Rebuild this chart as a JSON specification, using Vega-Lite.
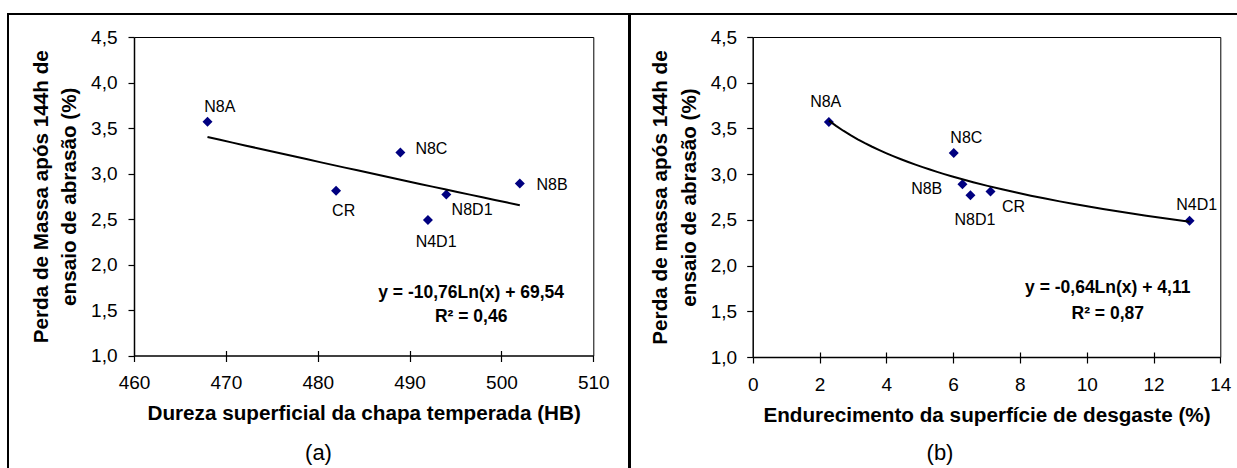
{
  "$schema": "https://vega.github.io/schema/vega-lite/v6.json",
  "padding": {"left": 7, "top": 13, "right": -5, "bottom": -3},
  "background": "white",
  "spacing": -2,
  "config": {
    "font": "Liberation Sans",
    "view": {"stroke": "black", "strokeWidth": 2},
    "axis": {"grid": false, "domainColor": "black", "tickColor": "black", "labelColor": "black", "titleColor": "black", "labelFlush": false, "labelOverlap": false, "labelFontSize": 19, "titleFontSize": 20.7, "titleFontWeight": "bold", "domainWidth": 1.5, "tickWidth": 1.2, "tickSize": 6},
    "title": {"fontSize": 22, "fontWeight": "normal", "color": "black", "orient": "bottom", "anchor": "middle", "frame": "group", "offset": -27},
    "text": {"color": "black"}
  },
  "datasets": {
    "a": [
      {"label": "N8A", "x": 468, "y": 3.57},
      {"label": "CR", "x": 482, "y": 2.81},
      {"label": "N8C", "x": 489, "y": 3.23},
      {"label": "N8D1", "x": 494, "y": 2.77},
      {"label": "N4D1", "x": 492, "y": 2.49},
      {"label": "N8B", "x": 502, "y": 2.89}
    ],
    "b": [
      {"label": "N8A", "x": 2.28, "y": 3.57},
      {"label": "N8C", "x": 6.02, "y": 3.23},
      {"label": "N8B", "x": 6.28, "y": 2.89},
      {"label": "N8D1", "x": 6.52, "y": 2.77},
      {"label": "CR", "x": 7.12, "y": 2.81},
      {"label": "N4D1", "x": 13.08, "y": 2.49}
    ]
  },
  "hconcat": [
    {
      "width": 621, "height": 456,
      "title": {"text": "(a)"},
      "data": {"name": "a"},
      "resolve": {"axis": {"x": "independent", "y": "independent"}},
      "layer": [
        {
          "mark": {"type": "point", "shape": "diamond", "filled": true, "size": 100, "color": "#000080", "opacity": 1, "strokeWidth": 0},
          "encoding": {
            "x": {"field": "x", "type": "quantitative",
              "scale": {"domain": [460, 510], "range": [126, 585.3], "nice": false, "zero": false},
              "axis": {"orient": "bottom", "offset": -114.5, "values": [460, 470, 480, 490, 500, 510], "labelPadding": 12, "title": "Dureza superficial da chapa temperada (HB)", "titlePadding": 11}},
            "y": {"field": "y", "type": "quantitative",
              "scale": {"domain": [1, 4.5], "range": [341.5, 23], "nice": false, "zero": false},
              "axis": {"orient": "left", "offset": -126, "values": [1, 1.5, 2, 2.5, 3, 3.5, 4, 4.5], "labelExpr": "replace(format(datum.value, '.1f'), '.', ',')", "labelPadding": 11, "title": ["Perda de Massa após 144h de", "ensaio de abrasão (%)"], "titleLineHeight": 28.5, "titlePadding": 11}}
          }
        },
        {
          "transform": [{"regression": "y", "on": "x", "method": "log"}],
          "mark": {"type": "line", "color": "black", "strokeWidth": 2},
          "encoding": {
            "x": {"field": "x", "type": "quantitative", "axis": {"orient": "top", "offset": -23, "labels": false, "ticks": false, "title": null, "domainWidth": 1}},
            "y": {"field": "y", "type": "quantitative", "axis": {"orient": "right", "offset": -35.7, "labels": false, "ticks": false, "title": null, "domainWidth": 1}}
          }
        },
        {
          "data": {"values": [{}]},
          "mark": {"type": "text", "text": ["y = -10,76Ln(x) + 69,54", "R² = 0,46"], "align": "center", "baseline": "alphabetic", "fontWeight": "bold", "fontSize": 17.5, "lineHeight": 23.4},
          "encoding": {
            "x": {"datum": 496.7, "type": "quantitative", "axis": {"orient": "bottom", "offset": -114.5, "values": [470, 480, 490, 500], "labels": false, "domain": false, "tickSize": -5, "title": null}},
            "y": {"datum": 1.629, "type": "quantitative", "axis": null}
          }
        },
        {"transform": [{"filter": "datum.label === 'N8A'"}], "mark": {"type": "text", "align": "left", "baseline": "alphabetic", "dx": -3.3, "dy": -10, "fontSize": 16},
          "encoding": {"x": {"field": "x", "type": "quantitative", "axis": null}, "y": {"field": "y", "type": "quantitative", "axis": null}, "text": {"field": "label"}}},
        {"transform": [{"filter": "datum.label === 'N8C'"}], "mark": {"type": "text", "align": "left", "baseline": "alphabetic", "dx": 15, "dy": 1.3, "fontSize": 16},
          "encoding": {"x": {"field": "x", "type": "quantitative", "axis": null}, "y": {"field": "y", "type": "quantitative", "axis": null}, "text": {"field": "label"}}},
        {"transform": [{"filter": "datum.label === 'N8B'"}], "mark": {"type": "text", "align": "left", "baseline": "alphabetic", "dx": 16.7, "dy": 6.3, "fontSize": 16},
          "encoding": {"x": {"field": "x", "type": "quantitative", "axis": null}, "y": {"field": "y", "type": "quantitative", "axis": null}, "text": {"field": "label"}}},
        {"transform": [{"filter": "datum.label === 'CR'"}], "mark": {"type": "text", "align": "left", "baseline": "alphabetic", "dx": -4, "dy": 25, "fontSize": 16},
          "encoding": {"x": {"field": "x", "type": "quantitative", "axis": null}, "y": {"field": "y", "type": "quantitative", "axis": null}, "text": {"field": "label"}}},
        {"transform": [{"filter": "datum.label === 'N8D1'"}], "mark": {"type": "text", "align": "left", "baseline": "alphabetic", "dx": 5.3, "dy": 21, "fontSize": 16},
          "encoding": {"x": {"field": "x", "type": "quantitative", "axis": null}, "y": {"field": "y", "type": "quantitative", "axis": null}, "text": {"field": "label"}}},
        {"transform": [{"filter": "datum.label === 'N4D1'"}], "mark": {"type": "text", "align": "left", "baseline": "alphabetic", "dx": -12.3, "dy": 26.7, "fontSize": 16},
          "encoding": {"x": {"field": "x", "type": "quantitative", "axis": null}, "y": {"field": "y", "type": "quantitative", "axis": null}, "text": {"field": "label"}}}
      ]
    },
    {
      "width": 612, "height": 456,
      "title": {"text": "(b)", "dx": 4},
      "data": {"name": "b"},
      "resolve": {"axis": {"x": "independent", "y": "independent"}},
      "layer": [
        {
          "mark": {"type": "point", "shape": "diamond", "filled": true, "size": 100, "color": "#000080", "opacity": 1, "strokeWidth": 0},
          "encoding": {
            "x": {"field": "x", "type": "quantitative",
              "scale": {"domain": [0, 14], "range": [122.7, 590.3], "nice": false, "zero": false},
              "axis": {"orient": "bottom", "offset": -113, "values": [0, 2, 4, 6, 8, 10, 12, 14], "labelPadding": 12, "title": "Endurecimento da superfície de desgaste (%)", "titlePadding": 11}},
            "y": {"field": "y", "type": "quantitative",
              "scale": {"domain": [1, 4.5], "range": [343, 23], "nice": false, "zero": false},
              "axis": {"orient": "left", "offset": -122.7, "values": [1, 1.5, 2, 2.5, 3, 3.5, 4, 4.5], "labelExpr": "replace(format(datum.value, '.1f'), '.', ',')", "labelPadding": 10, "title": ["Perda de massa após 144h de", "ensaio de abrasão (%)"], "titleLineHeight": 28.5, "titlePadding": 11}}
          }
        },
        {
          "transform": [{"regression": "y", "on": "x", "method": "log"}],
          "mark": {"type": "line", "color": "black", "strokeWidth": 2},
          "encoding": {
            "x": {"field": "x", "type": "quantitative", "axis": {"orient": "top", "offset": -23, "labels": false, "ticks": false, "title": null, "domainWidth": 1}},
            "y": {"field": "y", "type": "quantitative", "axis": {"orient": "right", "offset": -21.7, "labels": false, "ticks": false, "title": null, "domainWidth": 1}}
          }
        },
        {
          "data": {"values": [{}]},
          "mark": {"type": "text", "text": ["y = -0,64Ln(x) + 4,11", "R² = 0,87"], "align": "center", "baseline": "alphabetic", "fontWeight": "bold", "fontSize": 17.5, "lineHeight": 26},
          "encoding": {
            "x": {"datum": 10.63, "type": "quantitative", "axis": {"orient": "bottom", "offset": -113, "values": [2, 4, 6, 8, 10, 12], "labels": false, "domain": false, "tickSize": -5, "title": null}},
            "y": {"datum": 1.697, "type": "quantitative", "axis": null}
          }
        },
        {"transform": [{"filter": "datum.label === 'N8A'"}], "mark": {"type": "text", "align": "left", "baseline": "alphabetic", "dx": -18.7, "dy": -14.6, "fontSize": 16},
          "encoding": {"x": {"field": "x", "type": "quantitative", "axis": null}, "y": {"field": "y", "type": "quantitative", "axis": null}, "text": {"field": "label"}}},
        {"transform": [{"filter": "datum.label === 'N8C'"}], "mark": {"type": "text", "align": "left", "baseline": "alphabetic", "dx": -3.4, "dy": -9.7, "fontSize": 16},
          "encoding": {"x": {"field": "x", "type": "quantitative", "axis": null}, "y": {"field": "y", "type": "quantitative", "axis": null}, "text": {"field": "label"}}},
        {"transform": [{"filter": "datum.label === 'N8B'"}], "mark": {"type": "text", "align": "left", "baseline": "alphabetic", "dx": -51.3, "dy": 9.6, "fontSize": 16},
          "encoding": {"x": {"field": "x", "type": "quantitative", "axis": null}, "y": {"field": "y", "type": "quantitative", "axis": null}, "text": {"field": "label"}}},
        {"transform": [{"filter": "datum.label === 'N8D1'"}], "mark": {"type": "text", "align": "left", "baseline": "alphabetic", "dx": -16, "dy": 30.3, "fontSize": 16},
          "encoding": {"x": {"field": "x", "type": "quantitative", "axis": null}, "y": {"field": "y", "type": "quantitative", "axis": null}, "text": {"field": "label"}}},
        {"transform": [{"filter": "datum.label === 'CR'"}], "mark": {"type": "text", "align": "left", "baseline": "alphabetic", "dx": 11.4, "dy": 20.4, "fontSize": 16},
          "encoding": {"x": {"field": "x", "type": "quantitative", "axis": null}, "y": {"field": "y", "type": "quantitative", "axis": null}, "text": {"field": "label"}}},
        {"transform": [{"filter": "datum.label === 'N4D1'"}], "mark": {"type": "text", "align": "left", "baseline": "alphabetic", "dx": -13.3, "dy": -11, "fontSize": 16},
          "encoding": {"x": {"field": "x", "type": "quantitative", "axis": null}, "y": {"field": "y", "type": "quantitative", "axis": null}, "text": {"field": "label"}}}
      ]
    }
  ]
}
